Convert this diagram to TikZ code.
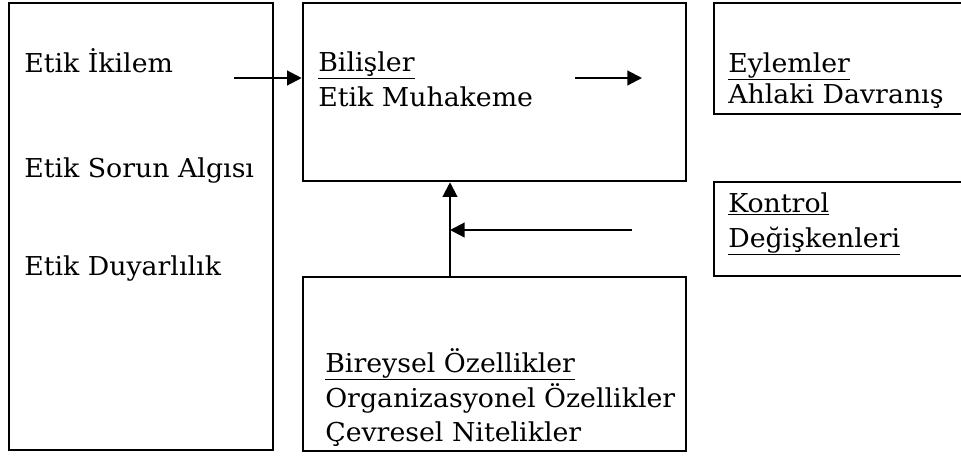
\documentclass[tikz,border=0pt]{standalone}
\usepackage{fontspec}
\setmainfont[FakeStretch=1.03]{DejaVu Serif}
\usetikzlibrary{fit,arrows.meta}
\begin{document}
\begin{tikzpicture}[x=0.75pt,y=-0.75pt,
  box/.style={draw,line width=1.9pt,inner sep=0pt},
  lbl/.style={anchor=base west,inner sep=0pt,font=\fontsize{19.5}{23}\selectfont},
  arr/.style={line width=1.6pt,-{Triangle[length=11pt,width=11pt]}}]
\clip (0,0) rectangle (961,455);
\fill[white] (0,0) rectangle (961,455);
% boxes
\node[box,fit={(9,3) (273,450)}] (L) {};
\node[box,fit={(303,3) (686,181)}] (M) {};
\node[box,fit={(303,277) (686,451)}] (B) {};
\node[box,fit={(714,3) (980,114)}] (E) {};
\node[box,fit={(714,182) (980,276)}] (K) {};
% texts
\node[lbl] (t1) at (24,72) {Etik İkilem};
\node[lbl] (t2) at (24,177) {Etik Sorun Algısı};
\node[lbl] (t3) at (24,275) {Etik Duyarlılık};
\node[lbl] (m1) at (318,71) {\underline{Bilişler}};
\node[lbl] (m2) at (318,106) {Etik Muhakeme};
\node[lbl] (e1) at (728,72) {\underline{Eylemler}};
\node[lbl] (e2) at (728,103) {Ahlaki Davranış};
\node[lbl] (k1) at (728,212) {\underline{Kontrol}};
\node[lbl] (k2) at (728,247) {\underline{Değişkenleri}};
\node[lbl] (b1) at (325,372) {\underline{Bireysel Özellikler}};
\node[lbl] (b2) at (325,407) {Organizasyonel Özellikler};
\node[lbl] (b3) at (325,441) {Çevresel Nitelikler};
% connectors
\coordinate (a1s) at (234,78);
\coordinate (a2s) at (575,78);
\coordinate (a2e) at (642,78);
\coordinate (a3s) at (632,230);
\coordinate (a3e) at (450,230);
\draw[arr] (a1s) -- (a1s -| M.west);
\draw[arr] (a2s) -- (a2e);
\draw[arr] (B.north -| a3e) -- (M.south -| a3e);
\draw[arr] (a3s) -- (a3e);
\end{tikzpicture}
\end{document}
